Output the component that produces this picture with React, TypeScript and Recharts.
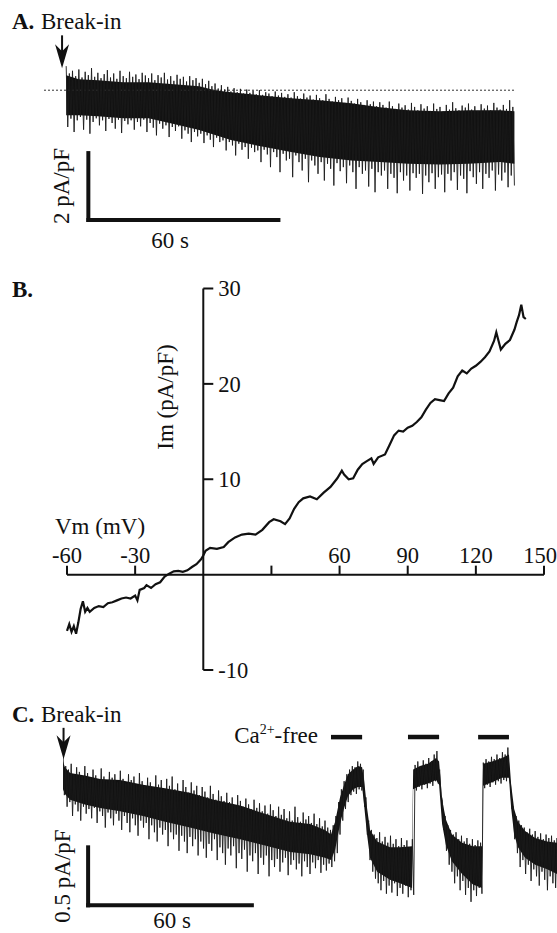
import React from "react";
import { ComposedChart, LineChart, Line, Area, XAxis, YAxis, ReferenceLine } from "recharts";

const FONT = "'Liberation Serif', 'Times New Roman', serif";
const INK = "#111";

// ---- Panel A: current after break-in (pA/pF, 0 = dotted level), time in s
// dense core of the trace
const aBodyT = [0, 4, 10, 18, 26, 34, 42, 47, 52, 61, 71, 80, 90, 99, 108, 118, 127, 137, 141.5];
const aBodyHi = [0.45, 0.33, 0.3, 0.24, 0.24, 0.18, 0.12, 0.0, -0.06, -0.15, -0.24, -0.3, -0.39, -0.51, -0.6, -0.63, -0.6, -0.6, -0.63];
const aBodyLo = [-0.75, -0.75, -0.78, -0.84, -0.84, -1.01, -1.19, -1.34, -1.49, -1.67, -1.85, -2.0, -2.1, -2.15, -2.2, -2.22, -2.2, -2.15, -2.2];
// noise peaks each second (up / down)
const aHi = [
  0.72, 0.5, 0.58, 0.42, 0.62, 0.38, 0.55, 0.45, 0.66, 0.4,
  0.52, 0.36, 0.48, 0.6, 0.38, 0.5, 0.34, 0.58, 0.42, 0.36,
  0.55, 0.4, 0.47, 0.33, 0.52, 0.44, 0.36, 0.5, 0.3, 0.45,
  0.38, 0.52, 0.32, 0.42, 0.28, 0.46, 0.34, 0.4, 0.26, 0.42,
  0.3, 0.36, 0.22, 0.34, 0.18, 0.28, 0.12, 0.2, 0.05, 0.15,
  0.02, 0.1, -0.04, 0.06, -0.06, 0.04, -0.1, 0.02, -0.08, -0.02,
  -0.12, 0.0, -0.14, -0.06, -0.1, -0.18, -0.04, -0.16, -0.08, -0.2,
  -0.12, -0.22, -0.06, -0.18, -0.25, -0.1, -0.22, -0.16, -0.28, -0.14,
  -0.24, -0.3, -0.12, -0.26, -0.34, -0.2, -0.3, -0.24, -0.38, -0.22,
  -0.32, -0.4, -0.26, -0.36, -0.44, -0.3, -0.42, -0.34, -0.48, -0.36,
  -0.44, -0.52, -0.34, -0.48, -0.56, -0.4, -0.52, -0.45, -0.58, -0.38,
  -0.5, -0.6, -0.42, -0.55, -0.48, -0.62, -0.4, -0.56, -0.5, -0.64,
  -0.44, -0.58, -0.36, -0.54, -0.6, -0.46, -0.52, -0.4, -0.58, -0.48,
  -0.62, -0.42, -0.55, -0.46, -0.6, -0.38, -0.52, -0.58, -0.44, -0.56,
  -0.3, -0.5,
];
const aLo = [
  -1.1, -0.85, -1.25, -0.9, -0.8, -1.18, -0.88, -1.3, -0.95, -0.84,
  -1.05, -0.9, -1.22, -0.86, -0.98, -1.15, -0.88, -1.28, -0.92, -1.02,
  -0.9, -1.18, -0.95, -1.08, -0.88, -1.25, -0.98, -1.12, -1.35, -1.0,
  -1.15, -1.05, -1.4, -1.1, -1.22, -1.08, -1.45, -1.2, -1.3, -1.55,
  -1.25, -1.38, -1.3, -1.58, -1.35, -1.48, -1.7, -1.42, -1.55, -1.5,
  -1.8, -1.55, -1.65, -1.95, -1.6, -1.78, -1.7, -2.05, -1.72, -1.85,
  -1.8, -2.15, -1.78, -1.92, -2.3, -1.85, -2.0, -2.45, -1.9, -2.1,
  -2.05, -2.6, -1.95, -2.15, -2.4, -2.05, -2.75, -2.1, -2.25, -2.5,
  -2.15, -2.7, -2.2, -2.35, -2.85, -2.18, -2.42, -2.3, -2.78, -2.25,
  -2.45, -2.95, -2.3, -2.5, -2.4, -2.88, -2.35, -3.05, -2.45, -2.55,
  -2.4, -2.95, -2.5, -2.62, -3.08, -2.45, -2.7, -2.55, -3.0, -2.48,
  -2.62, -2.5, -3.1, -2.55, -2.75, -2.48, -2.95, -2.6, -2.52, -3.05,
  -2.5, -2.7, -2.45, -2.98, -2.55, -2.65, -3.08, -2.42, -2.6, -2.8,
  -2.45, -2.95, -2.5, -2.62, -2.4, -3.0, -2.52, -2.7, -2.46, -2.9,
  -2.55, -2.85,
];
const aArrow = { t: -1.3, from: 1.64, to: 0.66 };
const aScale = { t0: 7, sec: 60, v0: -3.88, amp: 2 };

// ---- Panel B: I-V relation
const bVm = [
  -60, -59, -58, -57, -56, -55, -54, -53, -52, -51, -50, -48, -46, -44, -42, -40, -38, -36, -34, -32,
  -30, -29, -28, -26, -25, -23, -21, -19, -17, -15, -13, -11, -9, -7, -5, -3, -1, 0, 1, 3,
  6, 9, 11, 14, 17, 20, 23, 26, 29, 31, 34, 36, 38, 40, 42, 44, 47, 50, 53, 56,
  59, 61, 62, 64, 66, 68, 70, 72, 74, 75, 77, 80, 82, 84, 86, 88, 90, 92, 94, 96,
  98, 100, 102, 104, 106, 108, 110, 112, 114, 116, 118, 120, 122, 124, 126, 128, 129, 130, 131, 133,
  135, 137, 138, 139, 140, 141, 142,
];
const bIm = [
  -5.9, -5.2, -6.0, -5.4, -6.2, -5.0, -3.6, -2.8, -3.9, -3.5, -3.9, -3.5, -3.3, -3.4, -3.0, -2.9, -2.7, -2.5, -2.4, -2.5,
  -2.2, -2.7, -1.6, -1.4, -1.1, -1.4, -1.0, -0.8, -0.2, 0.1, 0.35, 0.4, 0.3, 0.45, 0.8, 1.1, 1.6, 2.0, 2.5, 2.8,
  2.7, 2.9, 3.4, 3.9, 4.2, 4.3, 4.2, 4.7, 5.5, 5.8, 5.6, 5.3, 5.9, 6.9, 7.6, 8.0, 8.2, 7.9, 8.6, 9.2,
  10.1, 10.9, 10.5, 10.0, 10.1, 11.0, 11.6, 11.9, 12.2, 11.6, 12.3, 12.6, 13.6, 14.6, 15.1, 15.0, 15.4, 15.6, 16.0, 16.5,
  17.3, 18.0, 18.4, 18.3, 18.2, 19.0, 19.6, 20.8, 21.4, 21.1, 21.6, 21.9, 22.3, 22.8, 23.4, 24.5, 25.4, 24.5, 23.6, 24.2,
  24.6, 25.7, 26.5, 27.2, 28.3, 27.0, 26.8,
];
const bXTicks = [-60, -30, 30, 60, 90, 120, 150];
const bXLabelled = [-60, -30, 60, 90, 120, 150];
const bYTicks = [30, 20, 10, -10];

// ---- Panel C: break-in then Ca2+-free pulses (pA/pF), time in s
const cBodyT = [
  0, 0.7, 2.6, 8, 13.6, 20.9, 29.3, 37.4, 46.5, 55.3, 64.9, 75.1, 83.2, 90.5, 96, 98.2, 99.7, 101.5, 103, 104.4,
  106.3, 108.1, 109.6, 110.3, 111.4, 112.5, 115.1, 119.8, 123.5, 127.9, 128.3, 130.8, 133.7, 136.7, 137.8, 138.9, 140.3, 142.5, 146.2, 150.2,
  153.5, 153.9, 157.2, 160.9, 163.4, 164.2, 165.3, 166.7, 169.3, 173, 177.4, 181,
];
const cBodyHi = [
  1.19, 1.14, 1.09, 1.07, 1.04, 1.03, 0.99, 0.96, 0.92, 0.86, 0.81, 0.73, 0.67, 0.65, 0.6, 0.56, 0.67, 0.88, 0.99, 1.08,
  1.12, 1.15, 1.14, 1.03, 0.79, 0.6, 0.5, 0.45, 0.45, 0.46, 1.12, 1.15, 1.17, 1.22, 1.19, 0.86, 0.69, 0.56, 0.49, 0.46,
  0.46, 1.17, 1.19, 1.22, 1.25, 0.99, 0.78, 0.67, 0.59, 0.53, 0.5, 0.49,
];
const cBodyLo = [
  0.95, 0.91, 0.86, 0.82, 0.79, 0.76, 0.72, 0.67, 0.62, 0.57, 0.52, 0.46, 0.41, 0.39, 0.36, 0.34, 0.43, 0.65, 0.79, 0.89,
  0.95, 0.97, 0.97, 0.82, 0.56, 0.36, 0.24, 0.17, 0.14, 0.1, 0.95, 0.98, 1.0, 1.03, 0.99, 0.65, 0.47, 0.33, 0.22, 0.13,
  0.1, 0.98, 1.01, 1.05, 1.05, 0.79, 0.56, 0.45, 0.36, 0.3, 0.26, 0.22,
];
const cHi = [
  1.26, 1.15, 1.12, 1.17, 1.08, 1.14, 1.1, 1.06, 1.15, 1.09,
  1.05, 1.12, 1.07, 1.03, 1.13, 1.06, 1.02, 1.1, 1.05, 1.08,
  1.01, 1.11, 1.04, 1.0, 1.08, 1.03, 1.06, 0.99, 1.09, 1.02,
  0.98, 1.05, 1.01, 0.97, 1.07, 0.99, 1.03, 0.95, 1.04, 0.98,
  1.06, 0.95, 1.0, 0.93, 1.03, 0.97, 0.92, 1.01, 0.94, 0.98,
  0.9, 0.97, 0.93, 0.88, 0.98, 0.91, 0.86, 0.94, 0.89, 0.85,
  0.92, 0.84, 0.88, 0.81, 0.9, 0.85, 0.8, 0.87, 0.82, 0.78,
  0.86, 0.79, 0.83, 0.76, 0.81, 0.74, 0.82, 0.77, 0.72, 0.8,
  0.73, 0.78, 0.7, 0.76, 0.68, 0.8, 0.71, 0.67, 0.75, 0.69,
  0.72, 0.66, 0.74, 0.65, 0.7, 0.63, 0.68, 0.62, 0.6, 0.64,
  0.72, 0.84, 0.95, 1.02, 1.08, 1.12, 1.15, 1.14, 1.19, 1.17,
  1.12, 0.88, 0.68, 0.6, 0.56, 0.53, 0.58, 0.5, 0.54, 0.49,
  0.55, 0.48, 0.52, 0.46, 0.53, 0.47, 0.51, 0.45, 0.52, 1.16,
  1.19, 1.15, 1.2, 1.17, 1.22, 1.19, 1.25, 1.28, 1.12, 0.86,
  0.72, 0.64, 0.6, 0.56, 0.58, 0.52, 0.55, 0.5, 0.53, 0.48,
  0.52, 0.47, 0.51, 0.49, 1.18, 1.21, 1.19, 1.23, 1.21, 1.25,
  1.22, 1.27, 1.25, 1.31, 0.99, 0.8, 0.72, 0.68, 0.64, 0.62,
  0.58, 0.61, 0.56, 0.59, 0.54, 0.57, 0.52, 0.56, 0.53, 0.55,
  0.51, 0.53,
];
const cLo = [
  0.9, 0.8, 0.84, 0.72, 0.82, 0.76, 0.68, 0.8, 0.74, 0.78,
  0.7, 0.79, 0.66, 0.76, 0.72, 0.62, 0.75, 0.7, 0.64, 0.74,
  0.68, 0.6, 0.72, 0.66, 0.58, 0.7, 0.64, 0.55, 0.68, 0.62,
  0.66, 0.52, 0.64, 0.58, 0.5, 0.62, 0.56, 0.6, 0.46, 0.58,
  0.52, 0.56, 0.42, 0.55, 0.5, 0.4, 0.54, 0.46, 0.52, 0.38,
  0.5, 0.44, 0.36, 0.48, 0.42, 0.52, 0.34, 0.45, 0.4, 0.3,
  0.44, 0.38, 0.46, 0.27, 0.4, 0.35, 0.43, 0.24, 0.38, 0.33,
  0.4, 0.22, 0.36, 0.3, 0.38, 0.2, 0.34, 0.28, 0.35, 0.24,
  0.32, 0.36, 0.21, 0.3, 0.34, 0.26, 0.31, 0.2, 0.33, 0.28,
  0.22, 0.32, 0.27, 0.34, 0.23, 0.3, 0.25, 0.31, 0.28, 0.33,
  0.4, 0.56, 0.68, 0.78, 0.84, 0.9, 0.93, 0.91, 0.95, 0.94,
  0.8, 0.56, 0.34, 0.24, 0.18, 0.14, 0.08, 0.16, 0.05, 0.12,
  0.06, 0.14, 0.03, 0.1, 0.05, 0.12, 0.02, 0.08, 0.04, 0.94,
  0.97, 0.95, 0.99, 0.96, 1.0, 0.98, 1.02, 1.0, 0.9, 0.6,
  0.42, 0.3, 0.24, 0.14, 0.2, 0.08, 0.16, 0.04, 0.1, -0.02,
  0.08, 0.03, 0.1, 0.05, 0.96, 0.99, 0.97, 1.01, 0.99, 1.02,
  1.0, 1.03, 1.02, 1.05, 0.78, 0.52, 0.4, 0.28, 0.34, 0.22,
  0.3, 0.16, 0.26, 0.2, 0.12, 0.24, 0.17, 0.08, 0.2, 0.14,
  0.1, 0.18,
];
const caFreeStart = [98.2, 126.4, 152.1];
const caFreeEnd = [109.6, 137.8, 163.4];
const caFreeLevel = 1.4;
const cArrow = { t: 0.2, from: 1.48, to: 1.21 };
const cScale = { t0: 9.2, sec: 60, v0: -0.05, amp: 0.5 };

// ---- helpers
function band(ts: number[], lo: number[], hi: number[]) {
  return ts.map((t, i) => ({ t, band: [lo[i], hi[i]] }));
}
// one up-peak and one down-peak per second
function zigzag(hi: number[], lo: number[]) {
  const out: { t: number; v: number }[] = [];
  hi.forEach((h, i) => {
    out.push({ t: i, v: h });
    out.push({ t: i + 0.5, v: lo[i] });
  });
  return out;
}

const aBody = band(aBodyT, aBodyLo, aBodyHi);
const aNoise = zigzag(aHi, aLo);
const cBody = band(cBodyT, cBodyLo, cBodyHi);
const cNoise = zigzag(cHi, cLo);
const bData = bVm.map((vm, i) => ({ vm, im: bIm[i] }));

const arrowShape = (p: any) => {
  const x = p.x1;
  const top = Math.min(p.y1, p.y2);
  const tip = Math.max(p.y1, p.y2);
  return (
    <g>
      <line x1={x} y1={top} x2={x} y2={tip - 14} stroke={INK} strokeWidth={2} />
      <path d={`M${x},${tip} L${x - 7},${tip - 24} L${x},${tip - 17} L${x + 7},${tip - 24} Z`} fill={INK} />
    </g>
  );
};
const xTickShape = (p: any) => (
  <line x1={p.x1} y1={p.y1} x2={p.x1} y2={p.y1 - 9} stroke={INK} strokeWidth={2} />
);
const yTickShape = (p: any) => (
  <line x1={p.x1} y1={p.y1} x2={p.x1 + 10} y2={p.y1} stroke={INK} strokeWidth={2} />
);

const tickLabel = { fill: INK, fontSize: 22.5, fontFamily: FONT };
const bar = { stroke: INK, strokeWidth: 4, strokeLinecap: "square" as const };

export default function App() {
  return (
    <div style={{ position: "absolute", left: 0, top: 0, width: 557, height: 933, background: "#fff" }}>
      {/* A */}
      <div style={{ position: "absolute", left: 0, top: 0 }}>
        <ComposedChart width={557} height={260} margin={{ top: 30, right: 41, bottom: 36, left: 44 }}>
          <XAxis type="number" dataKey="t" domain={[-7, 142]} allowDataOverflow hide />
          <YAxis type="number" domain={[-4, 1.8]} allowDataOverflow hide />
          <ReferenceLine y={0} stroke="#333" strokeWidth={1} strokeDasharray="2 2" />
          <Area data={aBody} dataKey="band" type="linear" stroke="none" fill={INK} fillOpacity={1} isAnimationActive={false} />
          <Line data={aNoise} dataKey="v" type="linear" stroke="#1a1a1a" strokeWidth={0.9} dot={false} isAnimationActive={false} />
          <ReferenceLine segment={[{ x: aArrow.t, y: aArrow.from }, { x: aArrow.t, y: aArrow.to }]} shape={arrowShape} />
          <ReferenceLine segment={[{ x: aScale.t0, y: aScale.v0 }, { x: aScale.t0, y: aScale.v0 + aScale.amp }]} {...bar} />
          <ReferenceLine segment={[{ x: aScale.t0, y: aScale.v0 }, { x: aScale.t0 + aScale.sec, y: aScale.v0 }]} {...bar} />
        </ComposedChart>
      </div>

      {/* B */}
      <div style={{ position: "absolute", left: 0, top: 250 }}>
        <LineChart width={557} height={440} data={bData} margin={{ top: 38.5, right: 13, bottom: 20, left: 67 }}>
          <XAxis type="number" dataKey="vm" domain={[-60, 150]} hide />
          <YAxis type="number" domain={[-10, 30]} hide />
          <ReferenceLine y={0} stroke={INK} strokeWidth={2} />
          <ReferenceLine x={0} stroke={INK} strokeWidth={2} />
          {bXTicks.map((v) => (
            <ReferenceLine
              key={"x" + v}
              segment={[{ x: v, y: 0 }, { x: v, y: 0 }]}
              shape={xTickShape}
              label={
                bXLabelled.includes(v)
                  ? { value: String(v), position: "top", offset: 12, dx: v === 150 ? -4 : 0, ...tickLabel }
                  : undefined
              }
            />
          ))}
          {bYTicks.map((v) => (
            <ReferenceLine
              key={"y" + v}
              segment={[{ x: 0, y: v }, { x: 0, y: v }]}
              shape={yTickShape}
              label={{ value: String(v), position: "right", offset: 15, ...tickLabel }}
            />
          ))}
          <Line dataKey="im" type="linear" stroke={INK} strokeWidth={2.2} dot={false} isAnimationActive={false} />
        </LineChart>
      </div>

      {/* C */}
      <div style={{ position: "absolute", left: 0, top: 700 }}>
        <ComposedChart width={557} height={233} margin={{ top: 0, right: 0, bottom: 1, left: 63 }}>
          <XAxis type="number" dataKey="t" domain={[0, 181]} allowDataOverflow hide />
          <YAxis type="number" domain={[-0.28, 1.72]} allowDataOverflow hide />
          <Area data={cBody} dataKey="band" type="linear" stroke="none" fill={INK} fillOpacity={1} isAnimationActive={false} />
          <Line data={cNoise} dataKey="v" type="linear" stroke="#1a1a1a" strokeWidth={0.9} dot={false} isAnimationActive={false} />
          <ReferenceLine segment={[{ x: cArrow.t, y: cArrow.from }, { x: cArrow.t, y: cArrow.to }]} shape={arrowShape} />
          {caFreeStart.map((s, i) => (
            <ReferenceLine key={"ca" + i} segment={[{ x: s, y: caFreeLevel }, { x: caFreeEnd[i], y: caFreeLevel }]} stroke={INK} strokeWidth={4.5} />
          ))}
          <ReferenceLine segment={[{ x: cScale.t0, y: cScale.v0 }, { x: cScale.t0, y: cScale.v0 + cScale.amp }]} {...bar} />
          <ReferenceLine segment={[{ x: cScale.t0, y: cScale.v0 }, { x: cScale.t0 + cScale.sec, y: cScale.v0 }]} {...bar} />
        </ComposedChart>
      </div>

      {/* annotations */}
      <svg width={557} height={933} style={{ position: "absolute", left: 0, top: 0, pointerEvents: "none" }} fontFamily={FONT} fontSize={23} fill={INK}>
        <text x={12} y={29} fontWeight="bold">A.</text>
        <text x={41} y={29}>Break-in</text>
        <text x={69} y={186} textAnchor="middle" transform="rotate(-90 69 186)">2 pA/pF</text>
        <text x={170} y={248} textAnchor="middle">60 s</text>

        <text x={12} y={297} fontWeight="bold">B.</text>
        <text x={55} y={534}>Vm (mV)</text>
        <text x={173} y={397} textAnchor="middle" transform="rotate(-90 173 397)">Im (pA/pF)</text>

        <text x={12} y={722} fontWeight="bold">C.</text>
        <text x={41} y={722}>Break-in</text>
        <text x={318} y={743} textAnchor="end">
          Ca<tspan dy={-9} fontSize={14}>2+</tspan>
          <tspan dy={9}>-free</tspan>
        </text>
        <text x={70} y={876} textAnchor="middle" transform="rotate(-90 70 876)">0.5 pA/pF</text>
        <text x={172} y={928} textAnchor="middle">60 s</text>
      </svg>
    </div>
  );
}
